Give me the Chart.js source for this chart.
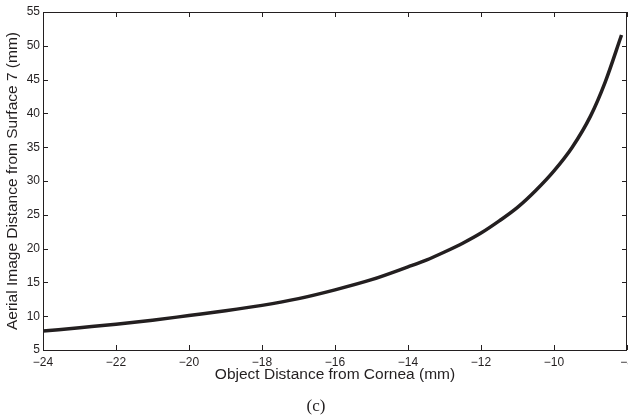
<!DOCTYPE html>
<html>
<head>
<meta charset="utf-8">
<script src="https://cdn.jsdelivr.net/npm/chart.js@4"></script>
<style>
  html, body { margin: 0; padding: 0; background: #fff; }
  #wrap { width: 628px; height: 417px; position: relative; }
</style>
</head>
<body>
<div id="wrap"><canvas id="aerialChart" width="628" height="417"></canvas></div>
<script>
// values
const objectDist = [-24, -23, -22, -21, -20, -19, -18, -17, -16, -15, -14, -13.5, -13, -12.5, -12, -11.5, -11, -10.5, -10, -9.5, -9, -8.6, -8.15];
const imageDist = [7.8, 8.3, 8.8, 9.4, 10.1, 10.8, 11.6, 12.6, 13.9, 15.4, 17.3, 18.3, 19.5, 20.8, 22.3, 24.1, 26.1, 28.6, 31.5, 35.0, 39.6, 44.6, 51.6];

const xTitle = 'Object Distance from Cornea (mm)';
const yTitle = 'Aerial Image Distance from Surface 7 (mm)';
const caption = '(c)';

const ink = '#231f20';
const sans = '"Liberation Sans", Arial, sans-serif';

// box round the plot + short ticks pointing inwards (matlab style)
const boxTicks = {
  id: 'boxTicks',
  afterDraw(chart) {
    const { ctx, chartArea: a, scales } = chart;
    const len = 5;
    ctx.save();
    ctx.strokeStyle = ink;
    ctx.lineWidth = 1;
    ctx.beginPath();
    scales.x.ticks.forEach(t => {
      const px = Math.round(scales.x.getPixelForValue(t.value)) + 0.5;
      ctx.moveTo(px, a.bottom); ctx.lineTo(px, a.bottom - len);
      ctx.moveTo(px, a.top); ctx.lineTo(px, a.top + len);
    });
    scales.y.ticks.forEach(t => {
      const py = Math.round(scales.y.getPixelForValue(t.value)) + 0.5;
      ctx.moveTo(a.left, py); ctx.lineTo(a.left + len, py);
      ctx.moveTo(a.right, py); ctx.lineTo(a.right - len, py);
    });
    ctx.stroke();
    ctx.strokeRect(Math.round(a.left) + 0.5, Math.round(a.top) + 0.5,
      Math.round(a.right - a.left) - 1, Math.round(a.bottom - a.top));
    // figure caption under the axis
    ctx.fillStyle = ink;
    ctx.font = '17px "Liberation Serif", "Times New Roman", serif';
    ctx.textAlign = 'center';
    ctx.textBaseline = 'middle';
    ctx.fillText(caption, 316, 407);
    ctx.restore();
  }
};

const minus = v => String(v).replace('-', '\u2212');

new Chart(document.getElementById('aerialChart'), {
  type: 'scatter',
  data: {
    datasets: [{
      data: objectDist.map((x, i) => ({ x: x, y: imageDist[i] })),
      showLine: true,
      borderColor: ink,
      borderWidth: 3.5,
      pointRadius: 0,
      cubicInterpolationMode: 'monotone',
      fill: false
    }]
  },
  options: {
    responsive: false,
    animation: false,
    layout: { padding: { top: 12, right: 1, bottom: 35, left: 0 } },
    plugins: { legend: { display: false }, tooltip: { enabled: false } },
    scales: {
      x: {
        type: 'linear',
        min: -24, max: -8,
        grid: { display: false, drawTicks: false },
        border: { display: false },
        ticks: { stepSize: 2, padding: 5, color: ink, font: { family: sans, size: 12 }, callback: minus, maxRotation: 0 },
        title: { display: true, text: xTitle, color: ink, font: { family: sans, size: 15.5, lineHeight: 1 }, padding: 0 },
        afterFit(scale) { scale.height = 32; scale.paddingLeft = 0; scale.paddingRight = 0; }
      },
      y: {
        min: 5, max: 55,
        grid: { display: false, drawTicks: false },
        border: { display: false },
        ticks: { stepSize: 5, padding: 3, color: ink, font: { family: sans, size: 12 } },
        title: { display: true, text: yTitle, color: ink, font: { family: sans, size: 15.5, lineHeight: 1 }, padding: { top: 5, bottom: 0 } },
        afterFit(scale) { scale.width = 43; scale.paddingTop = 0; scale.paddingBottom = 0; }
      }
    }
  },
  plugins: [boxTicks]
});
</script>
</body>
</html>
